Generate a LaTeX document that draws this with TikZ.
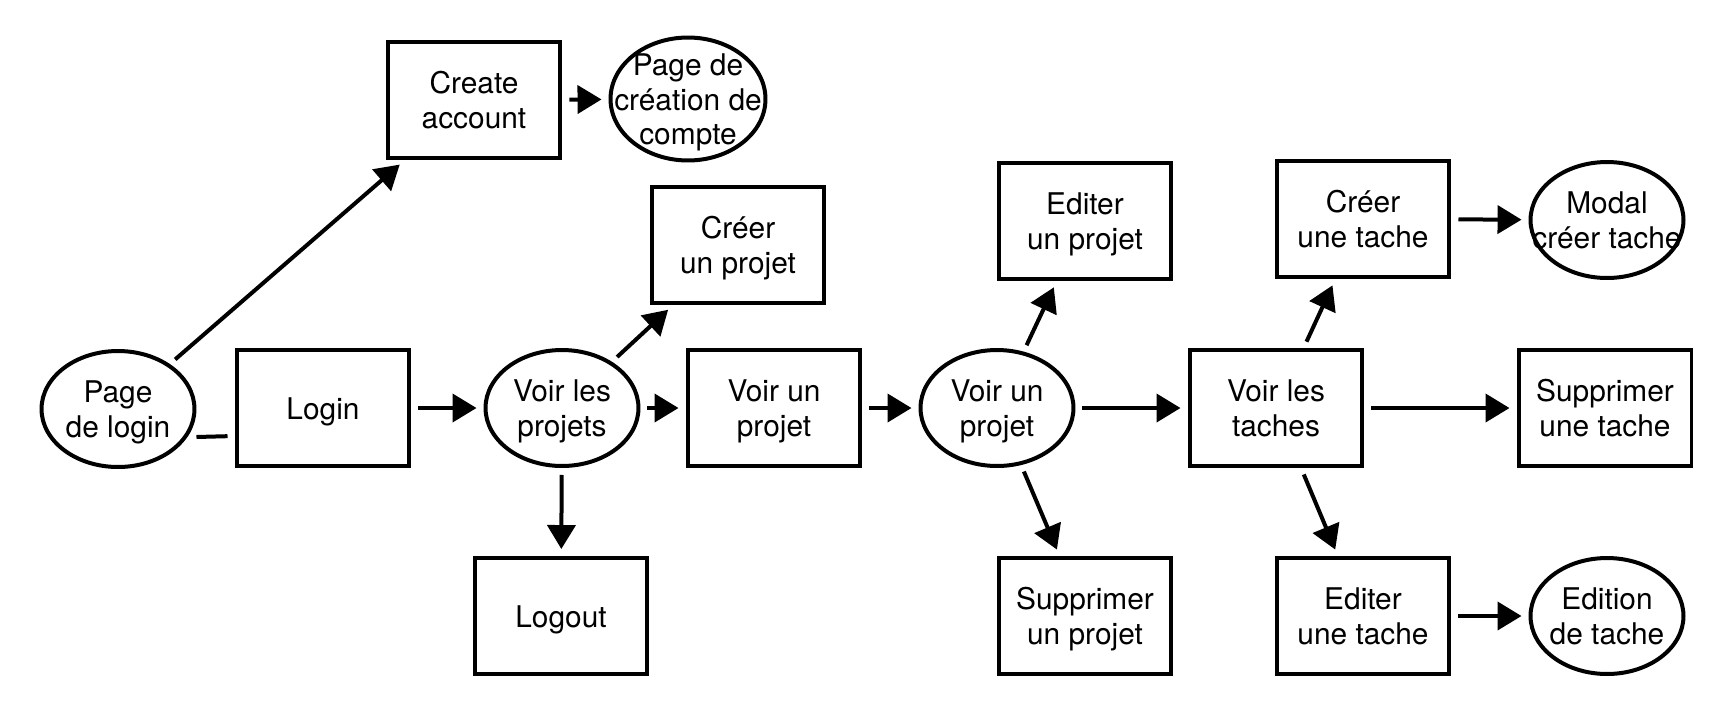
\documentclass[tikz,border=0pt]{standalone}
\usepackage{fontspec}
\setmainfont{TeX Gyre Heros}
\usetikzlibrary{shapes.geometric,arrows.meta}

\begin{document}
\begin{tikzpicture}[x=0.02cm,y=-0.02cm,
    every node/.style={font=\fontsize{17}{19.85}\selectfont, align=center,
        text height=1.14cm, text depth=0pt},
    oneline/.style={text height=0.44cm},
    threelines/.style={text height=1.84cm},
    screen/.style={draw, line width=0.08cm, minimum width=3.46cm, minimum height=2.32cm, inner sep=0pt},
    oval/.style={draw, ellipse, line width=0.08cm, minimum width=3.06cm, minimum height=2.32cm, inner sep=0pt},
    flow/.style={line width=0.08cm, -{Triangle[length=0.48cm,width=0.56cm]}, shorten <=0.14cm, shorten >=0.14cm}]
\useasboundingbox (0,0) rectangle (1735,718);
% Pages (ovals)
\node[oval] (plogin) at (118,409){};
\node (plogin-txt) at (plogin){Page\\de login};
\node[oval, minimum width=3.1cm, minimum height=2.46cm] (pcompte) at (688,99){};
\node[threelines] (pcompte-txt) at (pcompte){Page de\\création de\\compte};
\node[oval] (vprojets) at (562,408){};
\node (vprojets-txt) at (vprojets){Voir les\\projets};
\node[oval] (vprojet) at (997,408){};
\node (vprojet-txt) at (vprojet){Voir un\\projet};
\node[oval] (mtache) at (1607,220){};
\node (mtache-txt) at (mtache){Modal\\créer tache};
\node[oval] (etache) at (1607,616){};
\node (etache-txt) at (etache){Edition\\de tache};
% Actions (boxes)
\node[screen, oneline] (login) at (323,408){Login};
\node[screen] (create) at (474,100){Create\\account};
\node[screen] (cprojet) at (738,245){Créer\\un projet};
\node[screen] (voirprojet) at (774,408){Voir un\\projet};
\node[screen, oneline] (logout) at (561,616){Logout};
\node[screen] (edprojet) at (1085,221){Editer\\un projet};
\node[screen] (supprojet) at (1085,616){Supprimer\\un projet};
\node[screen] (taches) at (1276,408){Voir les\\taches};
\node[screen] (ctache) at (1363,219){Créer\\une tache};
\node[screen] (suptache) at (1605,408){Supprimer\\une tache};
\node[screen] (edtache) at (1363,616){Editer\\une tache};
% Links
\draw[line width=0.08cm, shorten >=0.14cm] ([yshift=-0.56cm]plogin.east) -- ([yshift=-0.56cm]login.west);
\draw[flow] (plogin) -- (create);
\draw[flow] (create) -- (pcompte);
\draw[flow] (login) -- (vprojets);
\draw[flow] (vprojets) -- (cprojet);
\draw[flow] (vprojets) -- (voirprojet);
\draw[flow] (vprojets) -- (logout);
\draw[flow] (voirprojet) -- (vprojet);
\draw[flow] (vprojet) -- (edprojet);
\draw[flow] (vprojet) -- (taches);
\draw[flow] (vprojet) -- (supprojet);
\draw[flow] (taches) -- (ctache);
\draw[flow] (taches) -- (suptache);
\draw[flow] (taches) -- (edtache);
\draw[flow] (ctache) -- (mtache);
\draw[flow] (edtache) -- (etache);
\end{tikzpicture}
\end{document}
